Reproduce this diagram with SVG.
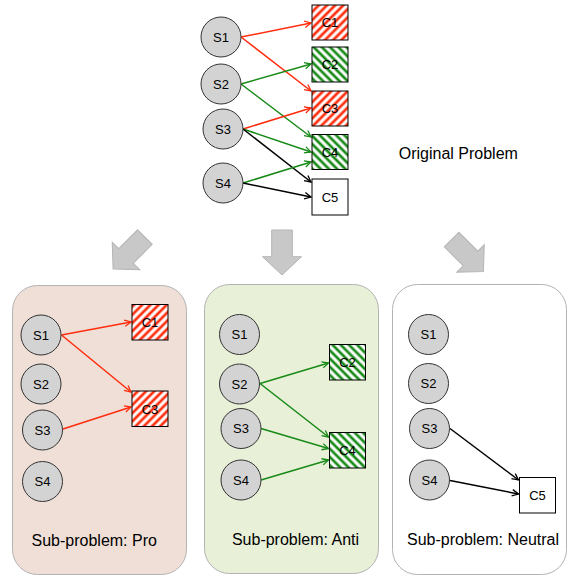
<svg xmlns="http://www.w3.org/2000/svg" width="579" height="577" viewBox="0 0 579 577">
<defs>
<pattern id="hr" patternUnits="userSpaceOnUse" width="5.8" height="5.8" patternTransform="rotate(45)">
<rect width="5.8" height="5.8" fill="#fff"/><line x1="2.9" y1="0" x2="2.9" y2="5.8" stroke="#ff2d0d" stroke-width="2.7"/>
</pattern>
<pattern id="hg" patternUnits="userSpaceOnUse" width="5.8" height="5.8" patternTransform="rotate(-45)">
<rect width="5.8" height="5.8" fill="#fff"/><line x1="2.9" y1="0" x2="2.9" y2="5.8" stroke="#178a17" stroke-width="2.7"/>
</pattern>
<marker id="ar" viewBox="0 0 10 10" refX="9" refY="5" markerWidth="8" markerHeight="8" markerUnits="userSpaceOnUse" orient="auto"><path d="M1,1 L9,5 L1,9" fill="none" stroke="#ff2d0d" stroke-width="1.6"/></marker>
<marker id="ag" viewBox="0 0 10 10" refX="9" refY="5" markerWidth="8" markerHeight="8" markerUnits="userSpaceOnUse" orient="auto"><path d="M1,1 L9,5 L1,9" fill="none" stroke="#178a17" stroke-width="1.6"/></marker>
<marker id="ak" viewBox="0 0 10 10" refX="9" refY="5" markerWidth="8" markerHeight="8" markerUnits="userSpaceOnUse" orient="auto"><path d="M1,1 L9,5 L1,9" fill="none" stroke="#000" stroke-width="1.6"/></marker>
<path id="bigarrow" d="M-10.3,-22.5 L10.3,-22.5 L10.3,4.2 L19.5,4.2 L0,22.5 L-19.5,4.2 L-10.3,4.2 Z"/>
</defs>
<style>
.s circle{fill:#d3d3d3;stroke:#333;stroke-width:1}
.c rect{stroke:#000;stroke-width:1}
text{font-family:"Liberation Sans",Arial,sans-serif;font-size:13px;fill:#000;text-anchor:middle;dominant-baseline:central}
.lbl{font-size:16px}
.r{stroke:#ff2d0d;stroke-width:1.5;fill:none;marker-end:url(#ar)}
.g{stroke:#178a17;stroke-width:1.5;fill:none;marker-end:url(#ag)}
.k{stroke:#000;stroke-width:1.5;fill:none;marker-end:url(#ak)}
.panel{stroke:#b3b3b3;stroke-width:1}
.big{fill:#c8c8c8;stroke:#b5b5b5;stroke-width:1}
</style>

<!-- panels -->
<rect id="panel-pro" class="panel" x="12.5" y="285.5" width="174" height="289" rx="25" fill="#efdfd6"/>
<rect id="panel-anti" class="panel" x="204.5" y="284.5" width="174" height="289" rx="25" fill="#e8f0d8"/>
<rect id="panel-neutral" class="panel" x="392.5" y="284.5" width="174" height="290" rx="25" fill="#ffffff"/>

<!-- big arrows -->
<use href="#bigarrow" class="big" transform="translate(129,253) rotate(45)"/>
<use href="#bigarrow" class="big" transform="translate(282,252.5)"/>
<use href="#bigarrow" class="big" transform="translate(467.5,255.5) rotate(-45)"/>

<!-- connectors -->
<g id="connectors">
<line class="r" x1="241" y1="37" x2="311" y2="23"/>
<line class="r" x1="241" y1="37" x2="311" y2="91"/>
<line class="g" x1="241" y1="84" x2="311" y2="64"/>
<line class="g" x1="241" y1="84" x2="311" y2="137"/>
<line class="r" x1="243" y1="129" x2="311" y2="108"/>
<line class="g" x1="243" y1="129" x2="311" y2="152"/>
<line class="k" x1="243" y1="129" x2="311" y2="182"/>
<line class="g" x1="243" y1="183" x2="311" y2="162"/>
<line class="k" x1="243" y1="183" x2="311" y2="197"/>

<line class="r" x1="61.5" y1="335" x2="131" y2="322"/>
<line class="r" x1="61.5" y1="335" x2="131" y2="392"/>
<line class="r" x1="63" y1="429" x2="131" y2="407"/>

<line class="g" x1="260" y1="383.5" x2="328.5" y2="363"/>
<line class="g" x1="260" y1="383.5" x2="328.5" y2="437"/>
<line class="g" x1="261" y1="428.5" x2="328.5" y2="448.5"/>
<line class="g" x1="261" y1="480" x2="328.5" y2="460"/>

<line class="k" x1="450" y1="428.5" x2="518.5" y2="480"/>
<line class="k" x1="450" y1="480.5" x2="518.5" y2="494"/>
</g>

<!-- original problem -->
<g id="orig-S1" class="s"><circle cx="221" cy="37" r="20"/><text x="221" y="37">S1</text></g>
<g id="orig-S2" class="s"><circle cx="221" cy="84" r="20"/><text x="221" y="84">S2</text></g>
<g id="orig-S3" class="s"><circle cx="223" cy="129" r="20"/><text x="223" y="129">S3</text></g>
<g id="orig-S4" class="s"><circle cx="223" cy="183" r="20"/><text x="223" y="183">S4</text></g>
<g id="orig-C1" class="c"><rect x="312" y="5" width="36" height="35" fill="url(#hr)"/><text x="330" y="22.5">C1</text></g>
<g id="orig-C2" class="c"><rect x="312" y="47" width="36" height="35" fill="url(#hg)"/><text x="330" y="64.5">C2</text></g>
<g id="orig-C3" class="c"><rect x="312" y="91" width="36" height="35" fill="url(#hr)"/><text x="330" y="108.5">C3</text></g>
<g id="orig-C4" class="c"><rect x="312" y="134.5" width="36" height="35" fill="url(#hg)"/><text x="330" y="152">C4</text></g>
<g id="orig-C5" class="c"><rect x="312" y="179" width="36" height="36" fill="#fff"/><text x="330" y="197">C5</text></g>
<text id="orig-title" x="458.3" y="153" style="font-size:16px">Original Problem</text>

<!-- pro -->
<g id="pro-S1" class="s"><circle cx="41" cy="335" r="20"/><text x="41" y="335">S1</text></g>
<g id="pro-S2" class="s"><circle cx="41" cy="384" r="20"/><text x="41" y="384">S2</text></g>
<g id="pro-S3" class="s"><circle cx="42.5" cy="430" r="20"/><text x="42.5" y="430">S3</text></g>
<g id="pro-S4" class="s"><circle cx="42.5" cy="481.5" r="20"/><text x="42.5" y="481.5">S4</text></g>
<g id="pro-C1" class="c"><rect x="132" y="304.5" width="36" height="35.5" fill="url(#hr)"/><text x="150" y="322.5">C1</text></g>
<g id="pro-C3" class="c"><rect x="132" y="391" width="36" height="35.5" fill="url(#hr)"/><text x="150" y="409">C3</text></g>
<text id="pro-title" class="lbl" x="94.2" y="540">Sub-problem: Pro</text>

<!-- anti -->
<g id="anti-S1" class="s"><circle cx="239.5" cy="334.5" r="20"/><text x="239.5" y="334.5">S1</text></g>
<g id="anti-S2" class="s"><circle cx="239.5" cy="384" r="20"/><text x="239.5" y="384">S2</text></g>
<g id="anti-S3" class="s"><circle cx="241" cy="428.5" r="20"/><text x="241" y="428.5">S3</text></g>
<g id="anti-S4" class="s"><circle cx="241" cy="480" r="20"/><text x="241" y="480">S4</text></g>
<g id="anti-C2" class="c"><rect x="329.5" y="344.5" width="36" height="35.5" fill="url(#hg)"/><text x="347.5" y="362.5">C2</text></g>
<g id="anti-C4" class="c"><rect x="329.5" y="432.5" width="36" height="35.5" fill="url(#hg)"/><text x="347.5" y="450.5">C4</text></g>
<text id="anti-title" class="lbl" x="295.5" y="539">Sub-problem: Anti</text>

<!-- neutral -->
<g id="neu-S1" class="s"><circle cx="428.5" cy="334.5" r="20"/><text x="428.5" y="334.5">S1</text></g>
<g id="neu-S2" class="s"><circle cx="428.5" cy="383.5" r="20"/><text x="428.5" y="383.5">S2</text></g>
<g id="neu-S3" class="s"><circle cx="429.5" cy="428.5" r="20"/><text x="429.5" y="428.5">S3</text></g>
<g id="neu-S4" class="s"><circle cx="429.5" cy="480" r="20"/><text x="429.5" y="480">S4</text></g>
<g id="neu-C5" class="c"><rect x="519.5" y="477.5" width="36" height="35.5" fill="#fff"/><text x="537.5" y="495.5">C5</text></g>
<text id="neu-title" class="lbl" x="483" y="539">Sub-problem: Neutral</text>
</svg>
